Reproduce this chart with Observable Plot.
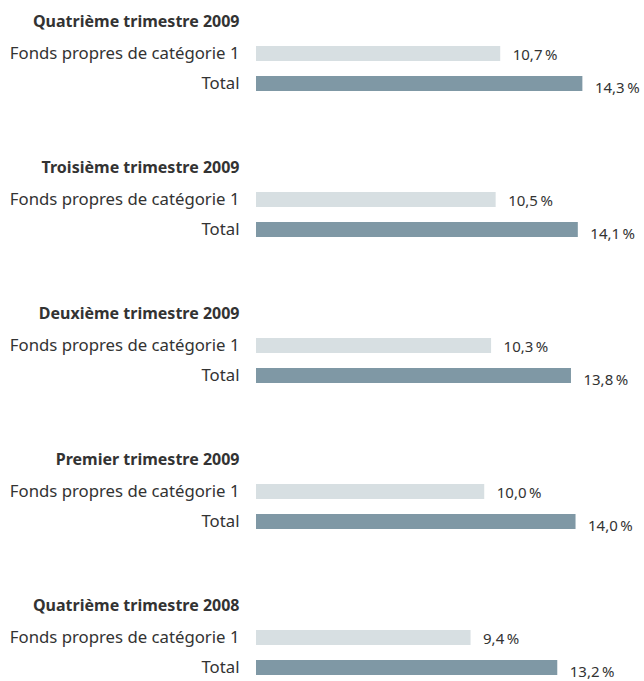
<!DOCTYPE html>
<html lang="fr">
<head>
<meta charset="utf-8">
<script src="https://cdn.jsdelivr.net/npm/d3@7"></script>
<script src="https://cdn.jsdelivr.net/npm/@observablehq/plot@0.6"></script>
<style>
  html, body { margin: 0; padding: 0; background: #fff; }
  #chart svg { display: block; }
</style>
</head>
<body>
<div id="chart"></div>
<script>
const groups = [
  "Quatrième trimestre 2009",
  "Troisième trimestre 2009",
  "Deuxième trimestre 2009",
  "Premier trimestre 2009",
  "Quatrième trimestre 2008"
];
const tier1Values = [10.7, 10.5, 10.3, 10.0, 9.4];
const totalValues = [14.3, 14.1, 13.8, 14.0, 13.2];
const seriesLabels = { tier1: "Fonds propres de catégorie 1", total: "Total" };
const seriesColors = { tier1: "#d7dfe2", total: "#7f98a5" };
const rowKeys = ["heading", "tier1", "total"];

const rows = [];
groups.forEach((g, i) => {
  rows.push({ group: g, row: "tier1", value: tier1Values[i] });
  rows.push({ group: g, row: "total", value: totalValues[i] });
});

const fmt = v => v.toFixed(1).replace(".", ",") + "\u2009%";
const textColor = "#333333";
const font = "Noto Sans";

const chart = Plot.plot({
  width: 644,
  height: 681,
  marginLeft: 256,
  marginRight: 0,
  marginTop: 16,
  marginBottom: 5.5,
  style: { fontFamily: font, fontSize: "16px", color: textColor, background: "#fff" },
  x: { domain: [0, 17], axis: null },
  y: { domain: rowKeys, paddingInner: 0.5, paddingOuter: 0, axis: null },
  fy: { domain: groups, paddingInner: 0.487, paddingOuter: 0, axis: null },
  marks: [
    Plot.barX(rows, { x: "value", y: "row", fy: "group", fill: d => seriesColors[d.row] }),
    Plot.text(groups, {
      fy: d => d, y: () => "heading", text: d => d,
      frameAnchor: "left", textAnchor: "end", dx: -17, dy: -2,
      fontWeight: "bold", fill: textColor, fontSize: 16
    }),
    Plot.text(rows, {
      fy: "group", y: "row", text: d => seriesLabels[d.row],
      frameAnchor: "left", textAnchor: "end", dx: -17,
      fill: textColor, fontSize: 16.75
    }),
    Plot.text(rows.filter(d => d.row === "tier1"), {
      fy: "group", y: "row", x: "value", text: d => fmt(d.value),
      textAnchor: "start", dx: 12, dy: 1, fill: textColor, fontSize: 15
    }),
    Plot.text(rows.filter(d => d.row === "total"), {
      fy: "group", y: "row", x: "value", text: d => fmt(d.value),
      textAnchor: "start", dx: 12, dy: 4, fill: textColor, fontSize: 15
    })
  ]
});
document.getElementById("chart").appendChild(chart);
</script>
</body>
</html>
